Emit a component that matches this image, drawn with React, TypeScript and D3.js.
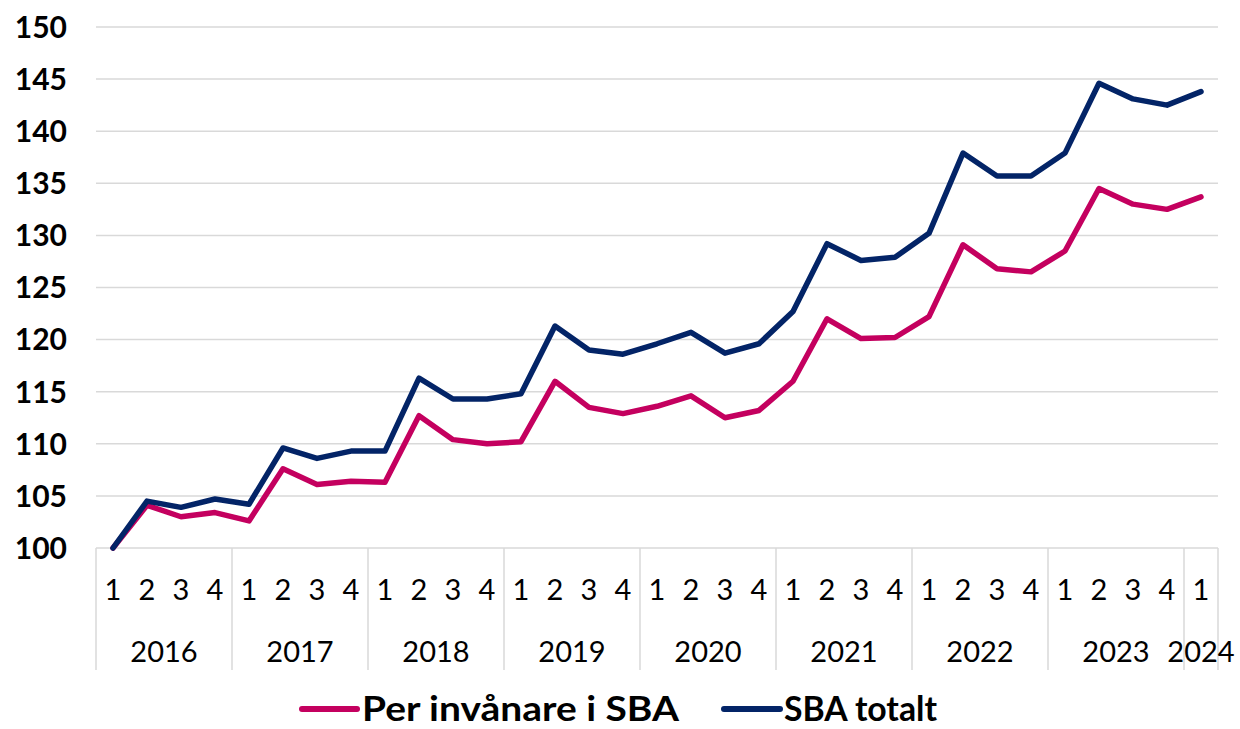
import { useMemo } from "react";
import * as d3 from "d3";

const YEARS = ["2016", "2017", "2018", "2019", "2020", "2021", "2022", "2023", "2024"];
const QUARTERS = ["1", "2", "3", "4"];

const PER_INVANARE = [
  100, 104.1, 103.0, 103.4,
  102.6, 107.6, 106.1, 106.4,
  106.3, 112.7, 110.4, 110.0,
  110.2, 116.0, 113.5, 112.9,
  113.6, 114.6, 112.5, 113.2,
  116.0, 122.0, 120.1, 120.2,
  122.2, 129.1, 126.8, 126.5,
  128.5, 134.5, 133.0, 132.5,
  133.7,
];

const SBA_TOTALT = [
  100, 104.5, 103.9, 104.7,
  104.2, 109.6, 108.6, 109.3,
  109.3, 116.3, 114.3, 114.3,
  114.8, 121.3, 119.0, 118.6,
  119.6, 120.7, 118.7, 119.6,
  122.7, 129.2, 127.6, 127.9,
  130.2, 137.9, 135.7, 135.7,
  137.9, 144.6, 143.1, 142.5,
  143.8,
];

const Y_TICKS = [100, 105, 110, 115, 120, 125, 130, 135, 140, 145, 150];

const SERIES = [
  { name: "Per invånare i SBA", values: PER_INVANARE, color: "#C4005F" },
  { name: "SBA totalt", values: SBA_TOTALT, color: "#032467" },
];

const W = 1240;
const H = 729;
const LEFT = 96;
const RIGHT = 1218;
const TOP = 27;
const BOTTOM = 548;
const GRID = "#D9D9D9";
const REG_FONT = "'Lato', 'Open Sans', sans-serif";
const BOLD_FONT = "'Lato', 'Open Sans', sans-serif";

// legend placement: [line start, line end, text start, text width]
const LEGEND_POS = [
  [302, 357, 362, 317],
  [724, 780, 784, 153],
];

export default function App() {
  // one category per quarter, 2024 only has Q1
  const cats = useMemo(() => {
    const out: { year: string; q: string; key: string }[] = [];
    YEARS.forEach((y) => {
      const qs = y === "2024" ? ["1"] : QUARTERS;
      qs.forEach((q) => out.push({ year: y, q, key: `${y}-${q}` }));
    });
    return out;
  }, []);

  const x = d3.scaleBand<string>().domain(cats.map((c) => c.key)).range([LEFT, RIGHT]);
  const y = d3.scaleLinear().domain([100, 150]).range([BOTTOM, TOP]);
  const bw = x.bandwidth();

  const line = d3
    .line<number>()
    .x((_, i) => (x(cats[i].key) as number) + bw / 2)
    .y((d) => y(d));

  // year groups for the second axis row
  const groups = YEARS.map((yr) => {
    const keys = cats.filter((c) => c.year === yr).map((c) => c.key);
    const x0 = x(keys[0]) as number;
    const x1 = (x(keys[keys.length - 1]) as number) + bw;
    return { yr, x0, x1 };
  });

  return (
    <div style={{ position: "absolute", left: 0, top: 0 }}>
      <svg width={W} height={H} style={{ display: "block", background: "#fff" }}>
        {/* gridlines */}
        {Y_TICKS.map((t) => (
          <line key={t} x1={LEFT} x2={RIGHT} y1={y(t)} y2={y(t)} stroke={GRID} strokeWidth={1.5} />
        ))}
        {Y_TICKS.map((t) => (
          <text
            key={"l" + t}
            x={67}
            y={y(t)}
            dy="0.36em"
            textAnchor="end"
            fontFamily={BOLD_FONT}
            fontWeight={700}
            fontSize={30}
            fill="#000"
          >
            {t}
          </text>
        ))}

        {/* category axis separators */}
        {groups.map((g) => (
          <line key={"s" + g.yr} x1={g.x0} x2={g.x0} y1={BOTTOM} y2={670} stroke={GRID} strokeWidth={1.5} />
        ))}
        <line x1={RIGHT} x2={RIGHT} y1={BOTTOM} y2={670} stroke={GRID} strokeWidth={1.5} />

        {cats.map((c) => (
          <text
            key={"q" + c.key}
            x={(x(c.key) as number) + bw / 2}
            y={600}
            textAnchor="middle"
            fontFamily={REG_FONT}
            fontSize={29}
            fill="#000"
          >
            {c.q}
          </text>
        ))}
        {groups.map((g) => (
          <text
            key={"y" + g.yr}
            x={(g.x0 + g.x1) / 2}
            y={662}
            textAnchor="middle"
            fontFamily={REG_FONT}
            fontSize={29}
            fill="#000"
          >
            {g.yr}
          </text>
        ))}

        {/* series */}
        {SERIES.map((s) => (
          <path
            key={s.name}
            d={line(s.values) ?? ""}
            fill="none"
            stroke={s.color}
            strokeWidth={5.5}
            strokeLinejoin="round"
            strokeLinecap="round"
          />
        ))}

        {/* legend */}
        {SERIES.map((s, i) => {
          const [l0, l1, tx, tw] = LEGEND_POS[i];
          return (
            <g key={"lg" + s.name}>
              <line x1={l0} x2={l1} y1={709} y2={709} stroke={s.color} strokeWidth={6} strokeLinecap="round" />
              <text
                x={tx}
                y={721}
                fontFamily={BOLD_FONT}
                fontWeight={700}
                fontSize={35}
                textLength={tw}
                lengthAdjust="spacingAndGlyphs"
                fill="#000"
              >
                {s.name}
              </text>
            </g>
          );
        })}
      </svg>
    </div>
  );
}
